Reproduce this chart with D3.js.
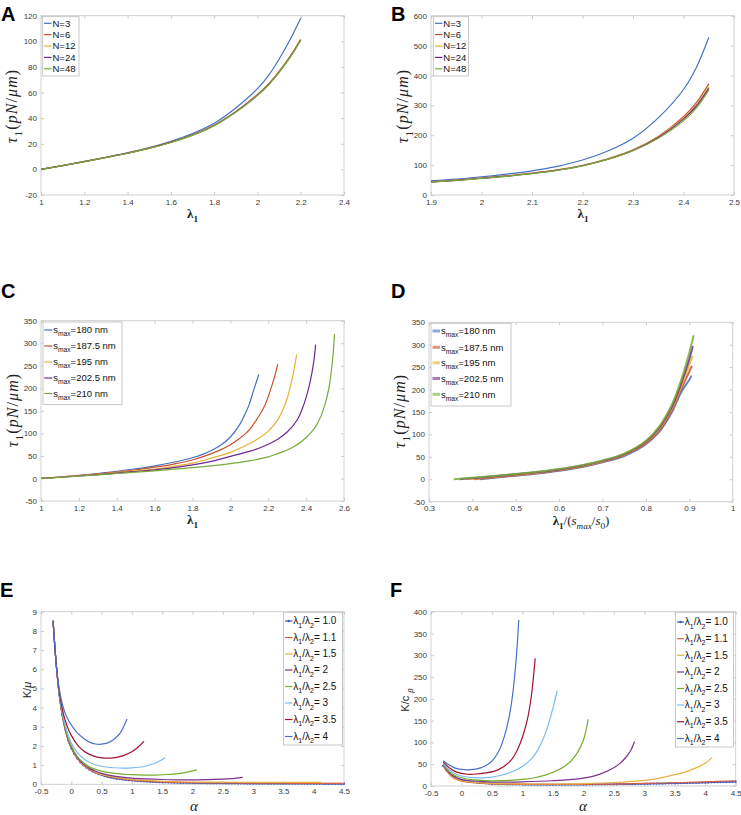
<!DOCTYPE html>
<html><head><meta charset="utf-8">
<script src="https://cdn.jsdelivr.net/npm/d3@7"></script>
<style>body{margin:0;background:#fff}svg{display:block}</style>
</head><body>
<script>
// ---------- DATA ----------
// Panel A
const lamA = [1, 1.1, 1.2, 1.3, 1.4, 1.5, 1.6, 1.7, 1.8, 1.9, 2.0, 2.05, 2.1, 2.15, 2.2];
const tauA_N3  = [0, 3, 6.2, 9.5, 13, 17, 22, 28, 36, 48, 63, 73, 86, 101, 118];
const tauA_N6  = [0, 3, 6.1, 9.4, 12.8, 16.6, 21.3, 27, 34.6, 45.2, 58.5, 66.5, 76.5, 88, 101.5];
const tauA_N12 = [0, 3, 6.1, 9.3, 12.8, 16.5, 21.2, 26.9, 34.4, 45, 58.2, 66.2, 76.2, 87.7, 101.2];
const tauA_N24 = [0, 3, 6, 9.3, 12.7, 16.5, 21.2, 26.8, 34.3, 44.9, 58, 66, 76, 87.5, 101];
const tauA_N48 = [0, 2.9, 6, 9.2, 12.6, 16.4, 21, 26.6, 34.1, 44.6, 57.7, 65.7, 75.7, 87.2, 100.8];
const ticksAx = [1, 1.2, 1.4, 1.6, 1.8, 2, 2.2, 2.4];
const ticksAy = [-20, 0, 20, 40, 60, 80, 100, 120];
const namesN = ["N=3", "N=6", "N=12", "N=24", "N=48"];

// Panel B
const lamB = [1.9, 1.95, 2.0, 2.05, 2.1, 2.15, 2.2, 2.25, 2.3, 2.35, 2.4, 2.425, 2.45];
const tauB_N3  = [47, 53, 61, 70, 81, 96, 117, 147, 190, 258, 353, 425, 527];
const tauB_N6  = [44, 50, 57, 64, 73, 84, 99, 121, 151, 196, 262, 308, 372];
const tauB_N12 = [44, 49.5, 56.5, 63.5, 72.5, 83.5, 98.5, 120, 150, 194, 257, 301, 362];
const tauB_N24 = [43.5, 49, 56, 63, 72, 83, 98, 119.5, 149, 192, 254, 297, 357];
const tauB_N48 = [43, 48.5, 55.5, 62.5, 71.5, 82.5, 97.5, 119, 148, 190, 248, 290, 351];
const ticksBx = [1.9, 2, 2.1, 2.2, 2.3, 2.4, 2.5];
const ticksBy = [0, 100, 200, 300, 400, 500, 600];

// Panel C
const namesS = ["=180 nm", "=187.5 nm", "=195 nm", "=202.5 nm", "=210 nm"];
const lamC_180 = [1, 1.1, 1.2, 1.3, 1.4, 1.5, 1.6, 1.7, 1.8, 1.85, 1.9, 1.95, 2.0, 2.05, 2.08, 2.1, 2.12, 2.14, 2.15];
const tauC_180 = [0, 3.3, 7, 11, 16, 21.5, 28, 36, 46, 53, 62, 74, 92, 120, 145, 165, 192, 218, 231];
const lamC_1875 = [1, 1.1, 1.2, 1.3, 1.4, 1.5, 1.6, 1.7, 1.8, 1.9, 1.95, 2.0, 2.05, 2.1, 2.15, 2.18, 2.2, 2.22, 2.24, 2.25];
const tauC_1875 = [0, 3.1, 6.5, 10, 14, 19, 25, 32, 41, 55, 64, 75, 89, 108, 138, 160, 182, 207, 236, 253];
const lamC_195 = [1, 1.1, 1.2, 1.3, 1.4, 1.5, 1.6, 1.7, 1.8, 1.9, 2.0, 2.05, 2.1, 2.15, 2.2, 2.25, 2.28, 2.3, 2.32, 2.34, 2.35];
const tauC_195 = [0, 2.9, 6, 9.3, 13, 17, 21, 27, 34, 45, 58, 67, 77, 89, 105, 130, 155, 178, 210, 250, 275];
const lamC_2025 = [1, 1.1, 1.2, 1.3, 1.4, 1.5, 1.6, 1.7, 1.8, 1.9, 2.0, 2.1, 2.15, 2.2, 2.25, 2.3, 2.35, 2.38, 2.4, 2.42, 2.44, 2.45];
const tauC_2025 = [0, 2.7, 5.5, 8.7, 12, 15.5, 19, 24, 30, 38, 49, 60, 67, 76, 87, 103, 128, 155, 180, 212, 258, 297];
const lamC_210 = [1, 1.1, 1.2, 1.3, 1.4, 1.5, 1.6, 1.7, 1.8, 1.9, 2.0, 2.1, 2.2, 2.25, 2.3, 2.35, 2.4, 2.43, 2.45, 2.48, 2.5, 2.52, 2.54, 2.55];
const tauC_210 = [0, 2.4, 5, 7.8, 11, 14, 17, 20.5, 24, 28, 33, 39, 48, 55, 63, 74, 91, 104, 115, 140, 165, 200, 265, 321];
const ticksCx = [1, 1.2, 1.4, 1.6, 1.8, 2, 2.2, 2.4, 2.6];
const ticksCy = [-50, 0, 50, 100, 150, 200, 250, 300, 350];

// Panel D
const rD_180 = [0.418, 0.45, 0.5, 0.55, 0.6, 0.65, 0.7, 0.75, 0.8, 0.83, 0.86, 0.88, 0.9, 0.905];
const tauD_180 = [0, 3.5, 8, 13, 19, 27, 38, 52, 78, 105, 150, 192, 222, 231];
const rD_1875 = [0.404, 0.45, 0.5, 0.55, 0.6, 0.65, 0.7, 0.75, 0.8, 0.83, 0.86, 0.88, 0.9, 0.906];
const tauD_1875 = [0, 4.5, 9, 14, 20, 28, 39, 54, 80, 108, 154, 198, 240, 253];
const rD_195 = [0.387, 0.4, 0.45, 0.5, 0.55, 0.6, 0.65, 0.7, 0.75, 0.8, 0.83, 0.86, 0.88, 0.9, 0.907];
const tauD_195 = [0, 1.2, 5.5, 10, 15, 21, 29, 40, 55, 82, 111, 158, 204, 255, 275];
const rD_2025 = [0.371, 0.4, 0.45, 0.5, 0.55, 0.6, 0.65, 0.7, 0.75, 0.8, 0.83, 0.86, 0.88, 0.9, 0.908];
const tauD_2025 = [0, 2.5, 6.5, 11, 16, 22, 30, 41, 56, 84, 114, 162, 210, 268, 297];
const rD_210 = [0.357, 0.4, 0.45, 0.5, 0.55, 0.6, 0.65, 0.7, 0.75, 0.8, 0.83, 0.86, 0.88, 0.9, 0.91];
const tauD_210 = [0, 3.5, 7.5, 12, 17, 23, 31, 42, 57, 86, 117, 167, 218, 282, 321];
const ticksDx = [0.3, 0.4, 0.5, 0.6, 0.7, 0.8, 0.9, 1];
const ticksDy = [-50, 0, 50, 100, 150, 200, 250, 300, 350];

// Panels E & F
const namesR = ["= 1.0", "= 1.1", "= 1.5", "= 2", "= 2.5", "= 3", "= 3.5", "= 4"];
const alphaFine = [-0.3,-0.25,-0.2,-0.15,-0.1,-0.05,0,0.05,0.1,0.15,0.2,0.25,0.3,0.35,0.4,0.45,0.5,0.55,0.6,0.65,0.7,0.75,0.8,0.85,0.9,0.95,1,
  1.05,1.1,1.15,1.2,1.25,1.3,1.35,1.4,1.45,1.5,1.55,1.6,1.65,1.7,1.75,1.8,1.85,1.9,1.95,2,
  2.05,2.1,2.15,2.2,2.25,2.3,2.35,2.4,2.45,2.5,2.55,2.6,2.65,2.7,2.75,2.8,2.85,2.9,2.95,3,
  3.05,3.1,3.15,3.2,3.25,3.3,3.35,3.4,3.45,3.5,3.55,3.6,3.65,3.7,3.75,3.8,3.85,3.9,3.95,4,
  4.05,4.1,4.15,4.2,4.25,4.3,4.35,4.4,4.45,4.5];
const kE_10 = [8.5,6.3,4.7,3.6,2.85,2.28,1.88,1.58,1.34,1.15,0.99,0.86,0.76,0.67,0.6,0.53,0.48,0.43,0.39,0.35,0.32,0.29,0.27,0.25,0.23,0.21,0.2,
  0.185,0.17,0.16,0.15,0.14,0.13,0.125,0.118,0.111,0.105,0.1,0.095,0.09,0.086,0.082,0.078,0.075,0.072,0.069,0.066,
  0.064,0.062,0.06,0.058,0.056,0.054,0.053,0.051,0.05,0.049,0.047,0.046,0.045,0.044,0.043,0.042,0.041,0.04,0.04,0.039,
  0.038,0.037,0.037,0.036,0.035,0.035,0.034,0.034,0.033,0.033,0.032,0.032,0.031,0.031,0.03,0.03,0.03,0.029,0.029,0.028,
  0.028,0.028,0.027,0.027,0.027,0.026,0.026,0.026,0.025,0.025];
const aE_11 = [-0.3,-0.25,-0.2,-0.15,-0.1,-0.05,0,0.1,0.2,0.3,0.4,0.5,0.6,0.8,1.0,1.25,1.5,1.75,2,2.5,3,3.5,4,4.5];
const kE_11 = [8.5,6.3,4.7,3.6,2.85,2.28,1.9,1.35,1.0,0.77,0.61,0.5,0.42,0.3,0.22,0.16,0.12,0.1,0.085,0.07,0.06,0.055,0.05,0.05];
const aE_15 = [-0.3,-0.25,-0.2,-0.15,-0.1,-0.05,0,0.1,0.2,0.3,0.4,0.5,0.6,0.8,1.0,1.25,1.5,1.75,2,2.5,3,3.5,4,4.12];
const kE_15 = [8.5,6.3,4.7,3.62,2.87,2.3,1.92,1.37,1.02,0.79,0.63,0.52,0.44,0.33,0.25,0.2,0.16,0.14,0.12,0.11,0.1,0.1,0.1,0.1];
const aE_2 = [-0.3,-0.25,-0.2,-0.15,-0.1,-0.05,0,0.1,0.2,0.3,0.4,0.5,0.6,0.8,1.0,1.25,1.5,1.75,2.0,2.25,2.5,2.7,2.83];
const kE_2 = [8.5,6.3,4.7,3.65,2.9,2.33,1.95,1.4,1.05,0.83,0.68,0.57,0.49,0.39,0.32,0.28,0.25,0.23,0.23,0.24,0.27,0.31,0.36];
const aE_25 = [-0.3,-0.25,-0.2,-0.15,-0.1,-0.05,0,0.1,0.2,0.3,0.4,0.5,0.6,0.8,1.0,1.2,1.4,1.6,1.8,2.07];
const kE_25 = [8.5,6.3,4.75,3.7,2.95,2.4,2.0,1.45,1.12,0.91,0.78,0.69,0.62,0.54,0.5,0.48,0.48,0.51,0.57,0.75];
const aE_3 = [-0.3,-0.25,-0.2,-0.15,-0.1,-0.05,0,0.1,0.2,0.3,0.4,0.5,0.6,0.8,1.0,1.2,1.4,1.55];
const kE_3 = [8.5,6.3,4.78,3.78,3.08,2.55,2.15,1.65,1.35,1.15,1.02,0.94,0.89,0.85,0.86,0.93,1.12,1.38];
const aE_35 = [-0.3,-0.25,-0.2,-0.15,-0.1,-0.05,0,0.1,0.2,0.3,0.4,0.5,0.6,0.7,0.8,0.9,1.0,1.1,1.2];
const kE_35 = [8.5,6.3,4.85,3.95,3.33,2.88,2.55,2.06,1.75,1.56,1.44,1.38,1.36,1.38,1.44,1.55,1.7,1.93,2.25];
const aE_4 = [-0.3,-0.25,-0.2,-0.15,-0.1,-0.05,0,0.1,0.2,0.3,0.4,0.5,0.6,0.7,0.8,0.92];
const kE_4 = [8.5,6.3,5.0,4.2,3.7,3.35,3.1,2.68,2.4,2.2,2.1,2.09,2.16,2.34,2.64,3.4];
const ticksEx = [-0.5, 0, 0.5, 1, 1.5, 2, 2.5, 3, 3.5, 4, 4.5];
const ticksEy = [0, 1, 2, 3, 4, 5, 6, 7, 8, 9];

const kF_10 = [46,36,29,23.5,19.5,16.5,14,12.2,10.8,9.6,8.6,7.8,7.1,6.5,6.0,5.6,5.2,4.9,4.6,4.4,4.2,4.0,3.85,3.7,3.6,3.5,3.4,
  3.33,3.27,3.22,3.18,3.15,3.12,3.1,3.09,3.08,3.08,3.08,3.09,3.1,3.12,3.14,3.17,3.2,3.23,3.27,3.31,
  3.36,3.41,3.46,3.52,3.58,3.64,3.71,3.78,3.85,3.93,4.01,4.09,4.18,4.27,4.36,4.46,4.56,4.66,4.77,4.88,
  4.99,5.11,5.23,5.35,5.48,5.61,5.74,5.88,6.02,6.16,6.31,6.46,6.61,6.77,6.93,7.09,7.26,7.43,7.6,7.78,
  7.96,8.14,8.33,8.52,8.71,8.9,9.1,9.3,9.5,9.7];
const aF_11 = [-0.3,-0.2,-0.1,0,0.25,0.5,1,1.5,2,2.5,3,3.5,4,4.5];
const kF_11 = [47,27,16,11,7,5,3.8,3.5,3.8,4.5,6,7.5,9.5,12];
const aF_15 = [-0.3,-0.2,-0.1,0,0.25,0.5,1,1.5,2,2.5,3,3.25,3.5,3.75,4,4.11];
const kF_15 = [48,28,18,12,8,6,4.8,4.6,5.5,8,13,18,26,36,52,65];
const aF_2 = [-0.3,-0.2,-0.1,0,0.25,0.5,1.0,1.5,2.0,2.25,2.5,2.6,2.7,2.78,2.84];
const kF_2 = [49,30,20,15,11,9,9.5,12,18,26,42,52,66,82,102];
const aF_25 = [-0.3,-0.2,-0.1,0,0.2,0.5,0.8,1.0,1.2,1.4,1.6,1.7,1.8,1.9,2.0,2.08];
const kF_25 = [50,33,24,19,14,12,13,15,19,26,38,46,58,76,105,153];
const aF_3 = [-0.3,-0.2,-0.1,0,0.2,0.4,0.6,0.8,1.0,1.1,1.2,1.3,1.4,1.5,1.57];
const kF_3 = [52,37,28,23,19,19,23,31,45,56,71,95,130,178,218];
const aF_35 = [-0.3,-0.2,-0.1,0,0.1,0.2,0.4,0.6,0.8,0.9,1.0,1.05,1.1,1.15,1.21];
const kF_35 = [55,42,33,29,27,27,30,37,57,78,112,135,165,210,293];
const aF_4 = [-0.3,-0.2,-0.1,0,0.1,0.2,0.3,0.4,0.5,0.6,0.65,0.7,0.75,0.8,0.85,0.9,0.94];
const kF_4 = [58,48,41,38,37,38,41,47,57,77,92,112,138,172,222,295,381];
const ticksFx = [-0.5, 0, 0.5, 1, 1.5, 2, 2.5, 3, 3.5, 4, 4.5];
const ticksFy = [0, 50, 100, 150, 200, 250, 300, 350, 400];

// ---------- STYLE ----------
const colN = ["#4470c4", "#c9502a", "#e8b032", "#6e2a8c", "#77aa3a"];
const colR = ["#3a5bc0", "#da6040", "#e6b245", "#7e2f8e", "#77ac30", "#7cbaf0", "#a2142f", "#4a70c8"];
const SANS = "'Liberation Sans', Arial, Helvetica, sans-serif";
const SERIF = "'Liberation Serif', 'Times New Roman', serif";

const svg = d3.select("body").append("svg").attr("width", 741).attr("height", 815);
svg.append("rect").attr("width", 741).attr("height", 815).attr("fill", "#fff");

const fmt = v => String(+v.toFixed(3));

function rich(sel, parts, size) {
  let off = 0;
  parts.forEach(p => {
    const target = p.sub ? size * 0.32 : 0;
    const ts = sel.append("tspan").text(p.t).attr("dy", target - off);
    off = target;
    if (p.sub) ts.attr("font-size", size * 0.7);
    if (p.i) ts.attr("font-style", "italic");
    if (p.n) ts.attr("font-style", "normal");
    if (p.b) ts.attr("font-weight", "bold");
  });
}

function panel(cfg) {
  const g = svg.append("g");
  const x = d3.scaleLinear().domain(cfg.xd).range([cfg.l, cfg.r]);
  const y = d3.scaleLinear().domain(cfg.yd).range([cfg.b, cfg.t]);
  const tickCol = "#bdbdbd";
  const axes = [
    [d3.axisBottom(x).tickValues(cfg.xt).tickFormat(fmt), `translate(0,${cfg.b})`, true],
    [d3.axisTop(x).tickValues(cfg.xt).tickFormat(""), `translate(0,${cfg.t})`, false],
    [d3.axisLeft(y).tickValues(cfg.yt).tickFormat(fmt), `translate(${cfg.l},0)`, true],
    [d3.axisRight(y).tickValues(cfg.yt).tickFormat(""), `translate(${cfg.r},0)`, false]
  ];
  axes.forEach(([ax, tr, lab]) => {
    const a = g.append("g").attr("transform", tr)
      .call(ax.tickSizeInner(-3).tickSizeOuter(0).tickPadding(lab ? 4 : 0));
    a.select(".domain").remove();
    a.selectAll("line").attr("stroke", tickCol).attr("stroke-width", 0.8);
    a.selectAll("text").attr("font-family", SANS).attr("font-size", 8).attr("fill", "#3a3a3a");
  });
  g.append("rect").attr("x", cfg.l).attr("y", cfg.t).attr("width", cfg.r - cfg.l).attr("height", cfg.b - cfg.t)
    .attr("fill", "none").attr("stroke", "#cccccc").attr("stroke-width", 0.9);
  const line = d3.line().x(d => x(d[0])).y(d => y(d[1])).curve(d3.curveCatmullRom.alpha(0.5));
  cfg.series.forEach(s => {
    const pts = s.x.map((v, i) => [v, s.y[i]]);
    g.append("path").attr("d", line(pts)).attr("fill", "none").attr("stroke", s.c)
      .attr("stroke-width", s.w || 1.2).attr("stroke-opacity", s.op || 1);
    if (s.marker) {
      g.append("g").selectAll("circle").data(pts).join("circle")
        .attr("cx", d => x(d[0])).attr("cy", d => y(d[1])).attr("r", 1.15).attr("fill", s.c);
    }
  });
  svg.append("text").attr("x", cfg.lx).attr("y", cfg.ly).text(cfg.letter)
    .attr("font-family", SANS).attr("font-weight", "bold").attr("font-size", 20).attr("fill", "#000");
  return {x, y, g};
}

function legend(L) {
  const g = svg.append("g");
  g.append("rect").attr("x", L.x0).attr("y", L.y0).attr("width", L.x1 - L.x0).attr("height", L.y1 - L.y0)
    .attr("fill", "#fff").attr("stroke", "#bcbcbc").attr("stroke-width", 0.8);
  L.items.forEach((it, i) => {
    const yy = L.rows[i];
    g.append("line").attr("x1", L.lx0).attr("x2", L.lx1).attr("y1", yy).attr("y2", yy)
      .attr("stroke", it.c).attr("stroke-width", L.lw || 1.2).attr("stroke-opacity", L.op || 1);
    if (it.marker) g.append("circle").attr("cx", (L.lx0 + L.lx1) / 2).attr("cy", yy).attr("r", 1.3).attr("fill", it.c);
    const t = g.append("text").attr("x", L.tx).attr("y", yy + 3.4)
      .attr("font-family", SANS).attr("font-size", L.fs).attr("fill", "#111");
    rich(t, it.parts, L.fs);
  });
}

function tauLabel(cx, cy) {
  const t = svg.append("text").attr("transform", `translate(${cx},${cy}) rotate(-90)`)
    .attr("text-anchor", "middle").attr("font-family", SERIF).attr("font-size", 16)
    .attr("font-style", "italic").attr("letter-spacing", 1.1).attr("fill", "#222");
  rich(t, [{t: "τ"}, {t: "1", sub: true, n: true}, {t: "(", n: true}, {t: "pN"}, {t: "/", n: true}, {t: "μm"}, {t: ")", n: true}], 16);
}
function lamLabel(cx, cy) {
  const t = svg.append("text").attr("x", cx).attr("y", cy).attr("text-anchor", "middle")
    .attr("font-family", SERIF).attr("font-size", 13).attr("font-weight", "bold").attr("fill", "#222");
  rich(t, [{t: "λ"}, {t: "1", sub: true}], 13);
}

// ---------- PANEL A ----------
const tauA = [tauA_N3, tauA_N6, tauA_N12, tauA_N24, tauA_N48];
panel({l: 41, r: 344, t: 15.7, b: 195, xd: [1, 2.4], yd: [-20, 120], xt: ticksAx, yt: ticksAy,
  letter: "A", lx: 1, ly: 21,
  series: tauA.map((ys, i) => ({x: lamA, y: ys, c: colN[i]}))});
legend({x0: 42.7, x1: 79, y0: 16.7, y1: 76, lx0: 44, lx1: 51.5, tx: 52.5, fs: 9.5,
  rows: [23.3, 34.6, 46, 57.4, 68.8],
  items: namesN.map((n, i) => ({c: colN[i], parts: [{t: n}]}))});
tauLabel(17, 106);
lamLabel(192.5, 218);

// ---------- PANEL B ----------
const tauB = [tauB_N3, tauB_N6, tauB_N12, tauB_N24, tauB_N48];
panel({l: 431, r: 734, t: 15.7, b: 195, xd: [1.9, 2.5], yd: [0, 600], xt: ticksBx, yt: ticksBy,
  letter: "B", lx: 391, ly: 21,
  series: tauB.map((ys, i) => ({x: lamB, y: ys, c: colN[i]}))});
legend({x0: 433.3, x1: 468.5, y0: 16.7, y1: 76, lx0: 435, lx1: 442.5, tx: 443.3, fs: 9.5,
  rows: [23.3, 34.6, 46, 57.4, 68.8],
  items: namesN.map((n, i) => ({c: colN[i], parts: [{t: n}]}))});
tauLabel(408, 106);
lamLabel(583, 218);

// ---------- PANEL C ----------
const seriesC = [[lamC_180, tauC_180], [lamC_1875, tauC_1875], [lamC_195, tauC_195], [lamC_2025, tauC_2025], [lamC_210, tauC_210]];
panel({l: 41, r: 344, t: 320.7, b: 501, xd: [1, 2.6], yd: [-50, 350], xt: ticksCx, yt: ticksCy,
  letter: "C", lx: 1, ly: 298,
  series: seriesC.map((s, i) => ({x: s[0], y: s[1], c: colN[i]}))});
legend({x0: 43, x1: 122, y0: 322, y1: 404.5, lx0: 44.3, lx1: 52.3, tx: 53.3, fs: 9.5,
  rows: [330, 346, 362, 378, 393.5],
  items: namesS.map((n, i) => ({c: colN[i], parts: [{t: "s"}, {t: "max", sub: true}, {t: n}]}))});
tauLabel(18, 410);
lamLabel(192.5, 524);

// ---------- PANEL D ----------
const seriesD = [[rD_180, tauD_180], [rD_1875, tauD_1875], [rD_195, tauD_195], [rD_2025, tauD_2025], [rD_210, tauD_210]];
panel({l: 429, r: 732.7, t: 322.3, b: 501.7, xd: [0.3, 1], yd: [-50, 350], xt: ticksDx, yt: ticksDy,
  letter: "D", lx: 391, ly: 298,
  series: seriesD.map((s, i) => ({x: s[0], y: s[1], c: colN[i], w: 2, op: 0.85}))});
legend({x0: 431, x1: 511, y0: 323.3, y1: 406, lx0: 432.5, lx1: 440, tx: 441, fs: 9.5, lw: 3, op: 0.6,
  rows: [331, 347.3, 362.8, 378.5, 394.3],
  items: namesS.map((n, i) => ({c: colN[i], parts: [{t: "s"}, {t: "max", sub: true}, {t: n}]}))});
tauLabel(405, 411);
{
  const t = svg.append("text").attr("x", 581).attr("y", 525).attr("text-anchor", "middle")
    .attr("font-family", SERIF).attr("font-size", 13).attr("fill", "#222");
  rich(t, [{t: "λ", b: true}, {t: "1", sub: true, b: true}, {t: "/("}, {t: "s", i: true}, {t: "max", sub: true, i: true},
    {t: "/"}, {t: "s", i: true}, {t: "0", sub: true}, {t: ")"}], 13);
}

// ---------- PANEL E ----------
const seriesE = [[alphaFine, kE_10], [aE_11, kE_11], [aE_15, kE_15], [aE_2, kE_2], [aE_25, kE_25], [aE_3, kE_3], [aE_35, kE_35], [aE_4, kE_4]];
panel({l: 41, r: 344, t: 611.7, b: 784.3, xd: [-0.5, 4.5], yd: [0, 9], xt: ticksEx, yt: ticksEy,
  letter: "E", lx: 0, ly: 597,
  series: seriesE.map((s, i) => ({x: s[0], y: s[1], c: colR[i], marker: i === 0}))});
const legR = namesR.map((n, i) => ({c: colR[i], marker: i === 0,
  parts: [{t: "λ"}, {t: "1", sub: true}, {t: "/λ"}, {t: "2", sub: true}, {t: n}]}));
legend({x0: 283.5, x1: 342.5, y0: 612.3, y1: 745, lx0: 285, lx1: 292.5, tx: 293.3, fs: 10,
  rows: [621, 637.5, 654, 670, 686.5, 703, 719.5, 736.5], items: legR});
{
  const t = svg.append("text").attr("transform", "translate(31,690) rotate(-90)").attr("text-anchor", "middle")
    .attr("font-family", SANS).attr("font-size", 11).attr("fill", "#222");
  rich(t, [{t: "K/"}, {t: "μ", i: true}], 11);
  svg.append("text").attr("x", 194).attr("y", 811).attr("text-anchor", "middle")
    .attr("font-family", SERIF).attr("font-style", "italic").attr("font-size", 15).attr("fill", "#222").text("α");
}

// ---------- PANEL F ----------
const seriesF = [[alphaFine, kF_10], [aF_11, kF_11], [aF_15, kF_15], [aF_2, kF_2], [aF_25, kF_25], [aF_3, kF_3], [aF_35, kF_35], [aF_4, kF_4]];
panel({l: 431, r: 735.7, t: 611.7, b: 786, xd: [-0.5, 4.5], yd: [0, 400], xt: ticksFx, yt: ticksFy,
  letter: "F", lx: 390, ly: 597,
  series: seriesF.map((s, i) => ({x: s[0], y: s[1], c: colR[i], marker: i === 0}))});
legend({x0: 675.5, x1: 733.5, y0: 612.3, y1: 747, lx0: 677, lx1: 684, tx: 684.8, fs: 10,
  rows: [622, 638.7, 655.3, 672, 688.5, 705, 721.7, 738.5], items: legR});
{
  const t = svg.append("text").attr("transform", "translate(409,700) rotate(-90)").attr("text-anchor", "middle")
    .attr("font-family", SANS).attr("font-size", 11).attr("fill", "#222");
  rich(t, [{t: "K/c "}, {t: "β", sub: true, i: true}], 11);
  svg.append("text").attr("x", 583).attr("y", 811).attr("text-anchor", "middle")
    .attr("font-family", SERIF).attr("font-style", "italic").attr("font-size", 15).attr("fill", "#222").text("α");
}
</script>
</body></html>
